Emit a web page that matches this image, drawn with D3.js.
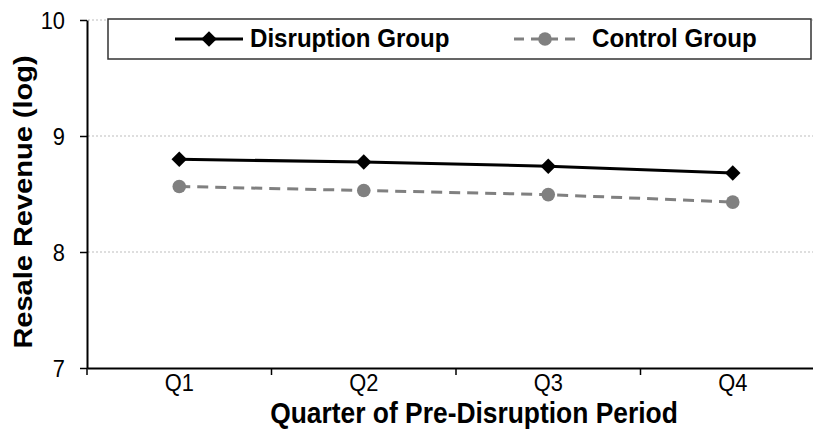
<!DOCTYPE html>
<html>
<head>
<meta charset="utf-8">
<script src="https://cdn.jsdelivr.net/npm/d3@7"></script>
<style>
  body { margin: 0; background: #fff; }
  text { font-family: "Liberation Sans", Arial, sans-serif; }
</style>
</head>
<body>
<div id="chart"></div>
<script>
// Chart data
const quarters = ["Q1", "Q2", "Q3", "Q4"];
const disruption = [8.80, 8.775, 8.74, 8.68];
const control = [8.565, 8.53, 8.495, 8.43];
const yTicks = [7, 8, 9, 10];
const seriesNames = ["Disruption Group", "Control Group"];

const W = 813, H = 445;
const sx = 0.91; // text in the picture is a bit narrow

let svg = d3.select("#chart").append("svg")
    .attr("width", W)
    .attr("height", H);

// Scales
let x = d3.scaleBand().domain(quarters).range([87, 825]);
let y = d3.scaleLinear().domain([7, 10]).range([368, 20]);

// Dotted gridlines
svg.append("g")
    .selectAll("line")
    .data(yTicks.slice(1))
    .enter().append("line")
    .attr("x1", 88)
    .attr("x2", W)
    .attr("y1", d => y(d))
    .attr("y2", d => y(d))
    .attr("stroke", "#bdbdbd")
    .attr("stroke-width", 1)
    .attr("stroke-dasharray", "2,2");

// Y axis
let yAxis = svg.append("g")
    .attr("transform", "translate(87,0)")
    .call(d3.axisLeft(y).tickValues(yTicks).tickSize(7).tickSizeOuter(0).tickFormat(d3.format("d")));
yAxis.select(".domain").attr("stroke", "#000").attr("stroke-width", 2);
yAxis.selectAll(".tick line").attr("stroke", "#000").attr("stroke-width", 1.5);
yAxis.selectAll(".tick text")
    .attr("x", null).attr("dy", null)
    .attr("transform", `translate(-22,8) scale(${sx},1)`)
    .attr("font-size", 24)
    .attr("fill", "#000");

// X axis
let xAxis = svg.append("g")
    .attr("transform", "translate(0,368)")
    .call(d3.axisBottom(x).tickSize(0).tickSizeOuter(0));
xAxis.select(".domain").attr("stroke", "#000").attr("stroke-width", 2);
xAxis.selectAll(".tick text")
    .attr("y", null).attr("dy", null)
    .attr("transform", `translate(0,23) scale(${sx},1)`)
    .attr("font-size", 24)
    .attr("fill", "#000");

// Tick marks at the band edges
svg.append("g")
    .selectAll("line")
    .data(quarters)
    .enter().append("line")
    .attr("x1", d => x(d))
    .attr("x2", d => x(d))
    .attr("y1", 368)
    .attr("y2", 375)
    .attr("stroke", "#000")
    .attr("stroke-width", 1.5);

// Axis titles
svg.append("text")
    .attr("transform", `translate(474,423) scale(${sx},1)`)
    .attr("text-anchor", "middle")
    .attr("font-size", 29)
    .attr("font-weight", "bold")
    .text("Quarter of Pre-Disruption Period");

svg.append("text")
    .attr("transform", `translate(32,202) rotate(-90) scale(1,${sx})`)
    .attr("text-anchor", "middle")
    .attr("font-size", 29)
    .attr("font-weight", "bold")
    .text("Resale Revenue (log)");

// Lines
let line = d3.line()
    .x((d, i) => x(quarters[i]) + x.bandwidth() / 2)
    .y(d => y(d));

svg.append("path")
    .datum(control)
    .attr("d", line)
    .attr("fill", "none")
    .attr("stroke", "#808080")
    .attr("stroke-width", 3)
    .attr("stroke-dasharray", "11,7");

svg.append("path")
    .datum(disruption)
    .attr("d", line)
    .attr("fill", "none")
    .attr("stroke", "#000")
    .attr("stroke-width", 3);

// Markers
let diamond = d3.symbol().type(d3.symbolSquare).size(120);

svg.append("g")
    .selectAll("circle")
    .data(control)
    .enter().append("circle")
    .attr("cx", (d, i) => x(quarters[i]) + x.bandwidth() / 2)
    .attr("cy", d => y(d))
    .attr("r", 6.8)
    .attr("fill", "#808080");

svg.append("g")
    .selectAll("path")
    .data(disruption)
    .enter().append("path")
    .attr("d", diamond)
    .attr("transform", (d, i) => `translate(${x(quarters[i]) + x.bandwidth() / 2},${y(d)}) rotate(45)`)
    .attr("fill", "#000");

// Legend
let legend = svg.append("g");

legend.append("rect")
    .attr("x", 108)
    .attr("y", 19)
    .attr("width", 703)
    .attr("height", 40)
    .attr("fill", "#fff")
    .attr("stroke", "#333")
    .attr("stroke-width", 1.5);

legend.append("line")
    .attr("x1", 175).attr("x2", 243)
    .attr("y1", 39).attr("y2", 39)
    .attr("stroke", "#000")
    .attr("stroke-width", 3);
legend.append("path")
    .attr("d", diamond)
    .attr("transform", "translate(209,39) rotate(45)")
    .attr("fill", "#000");
legend.append("text")
    .attr("transform", `translate(250,47) scale(${sx},1)`)
    .attr("font-size", 26.5)
    .attr("font-weight", "bold")
    .text(seriesNames[0]);

legend.append("line")
    .attr("x1", 514).attr("x2", 578)
    .attr("y1", 39).attr("y2", 39)
    .attr("stroke", "#808080")
    .attr("stroke-width", 3)
    .attr("stroke-dasharray", "10,7");
legend.append("circle")
    .attr("cx", 545)
    .attr("cy", 39)
    .attr("r", 6.8)
    .attr("fill", "#808080");
legend.append("text")
    .attr("transform", `translate(592,47) scale(${sx},1)`)
    .attr("font-size", 26.5)
    .attr("font-weight", "bold")
    .text(seriesNames[1]);
</script>
</body>
</html>
